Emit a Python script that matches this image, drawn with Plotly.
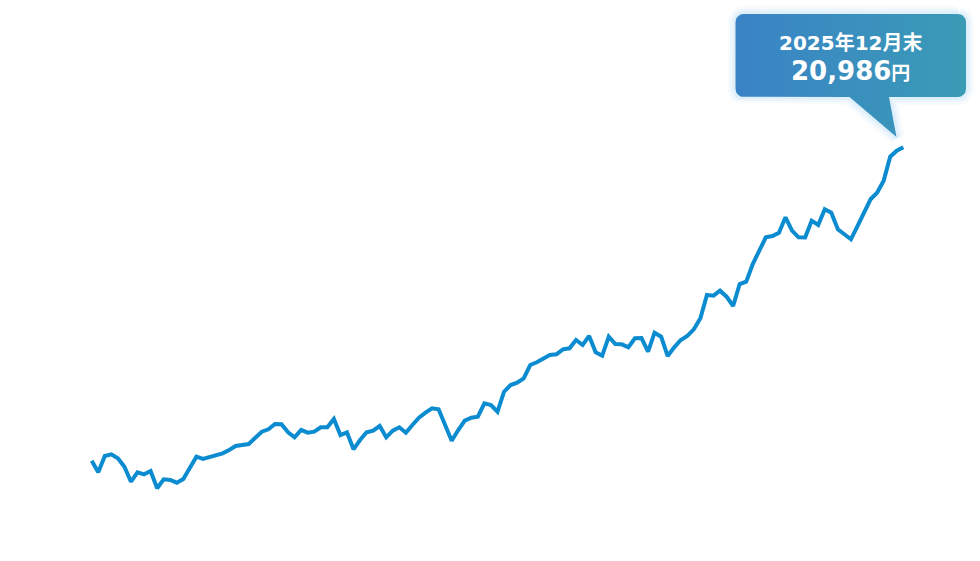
import plotly.graph_objects as go
import pandas as pd
import numpy as np

# ---- data (monthly NAV, yen) ----
values = [
    10017, 9611, 10182, 10241, 10101, 9807, 9282, 9611, 9541, 9656,
    9051, 9366, 9341, 9247, 9376, 9786, 10157, 10076, 10136, 10182,
    10276, 10391, 10531, 10566, 10601, 10822, 11032, 11116, 11301, 11291,
    11011, 10836, 11091, 10997, 11032, 11186, 11190, 11476, 10916, 11011,
    10416, 10741, 11011, 11067, 11231, 10836, 11067, 11186, 10997, 11266,
    11522, 11697, 11851, 11816, 11291, 10717, 11091, 11417, 11522, 11557,
    12026, 11966, 11732, 12432, 12666, 12747, 12901, 13366, 13461, 13601,
    13716, 13741, 13916, 13951, 14241, 14066, 14381, 13811, 13692, 14357,
    14101, 14090, 13986, 14301, 14310, 13832, 14497, 14357, 13681, 13986,
    14241, 14381, 14616, 15001, 15816, 15792, 15967, 15757, 15431, 16201,
    16282, 16901, 17391, 17836, 17881, 17997, 18536, 18067, 17836, 17830,
    18417, 18266, 18816, 18697, 18116, 17951, 17766, 18231, 18732, 19166,
    19397, 19817, 20657, 20867, 20986,
]
months = [d.strftime("%Y年%-m月") for d in pd.date_range("2015-08-01", periods=len(values), freq="MS")]
callout_title = "2025年12月末"
callout_value = "20,986"
callout_unit = "円"

W, H = 980, 561
px_per_step = (903.3 - 91.7) / (len(values) - 1)
x0 = -91.7 / px_per_step
x1 = x0 + W / px_per_step
yen_per_px = 35.0
ytop = values[-1] + 147.3 * yen_per_px
ybot = ytop - H * yen_per_px

fig = go.Figure()

# callout geometry in pixel space (overlay axes)
def rounded_rect(l, t, r, b, rad, n=8):
    pts = []
    corners = [(r - rad, t + rad, -90, 0), (r - rad, b - rad, 0, 90),
               (l + rad, b - rad, 90, 180), (l + rad, t + rad, 180, 270)]
    for cx, cy, a0, a1 in corners:
        for a in np.linspace(np.radians(a0), np.radians(a1), n):
            pts.append((cx + rad * np.cos(a), cy + rad * np.sin(a)))
    return pts

n = 8
bl, bt, br, bb = 735.5, 14.0, 966.0, 97.0
box = rounded_rect(bl, bt, br, bb, 8, n)
tail = [(889.0, bb), (896.5, 137.0), (849.5, bb)]
poly = box[:2 * n] + tail + box[2 * n:] + [box[0]]
px_ = [p[0] for p in poly]
py_ = [p[1] for p in poly]

# soft glow around the callout
for w_, a_ in [(16, 0.05), (11, 0.07), (6, 0.10)]:
    fig.add_trace(go.Scatter(x=px_, y=py_, mode="lines", xaxis="x2", yaxis="y2",
                             line=dict(color=f"rgba(110,185,235,{a_})", width=w_),
                             hoverinfo="skip", showlegend=False))

fig.add_trace(go.Scatter(
    x=px_, y=py_, mode="lines", fill="toself", xaxis="x2", yaxis="y2",
    line=dict(width=0, color="rgba(0,0,0,0)"),
    fillgradient=dict(type="horizontal",
                      colorscale=[[0, "#3a83c6"], [1, "#3a9bb6"]]),
    hoverinfo="skip", showlegend=False,
))

# main line
fig.add_trace(go.Scatter(
    x=months, y=values, mode="lines",
    line=dict(color="#0b8bd0", width=4),
    hovertemplate="%{x}<br>%{y:,}円<extra></extra>",
    showlegend=False,
))

fig.update_layout(
    width=W, height=H,
    margin=dict(l=0, r=0, t=0, b=0),
    paper_bgcolor="white", plot_bgcolor="white",
    xaxis=dict(type="category", range=[x0, x1], visible=False, fixedrange=True),
    yaxis=dict(range=[ybot, ytop], visible=False, fixedrange=True),
    xaxis2=dict(range=[0, W], visible=False, overlaying="x", fixedrange=True),
    yaxis2=dict(range=[H, 0], visible=False, overlaying="y", fixedrange=True),
    font=dict(family="DejaVu Sans, Noto Sans CJK JP, sans-serif"),
)

cfont = "DejaVu Sans, Noto Sans CJK JP, sans-serif"
fig.add_annotation(
    x=850.5, y=42.5, xref="x2", yref="y2", xanchor="center", yanchor="middle",
    text=f"<b>{callout_title}</b>", showarrow=False,
    font=dict(size=20, color="white", family=cfont),
)
fig.add_annotation(
    x=850, y=70.5, xref="x2", yref="y2", xanchor="center", yanchor="middle",
    text=f"<b>{callout_value}</b><span style='font-size:19px'><b>{callout_unit}</b></span>",
    showarrow=False,
    font=dict(size=26, color="white", family=cfont),
)

fig.write_html(
    "out.html",
    config={"displayModeBar": False},
    post_script="document.body.style.margin='0';document.body.style.overflow='hidden';",
)
